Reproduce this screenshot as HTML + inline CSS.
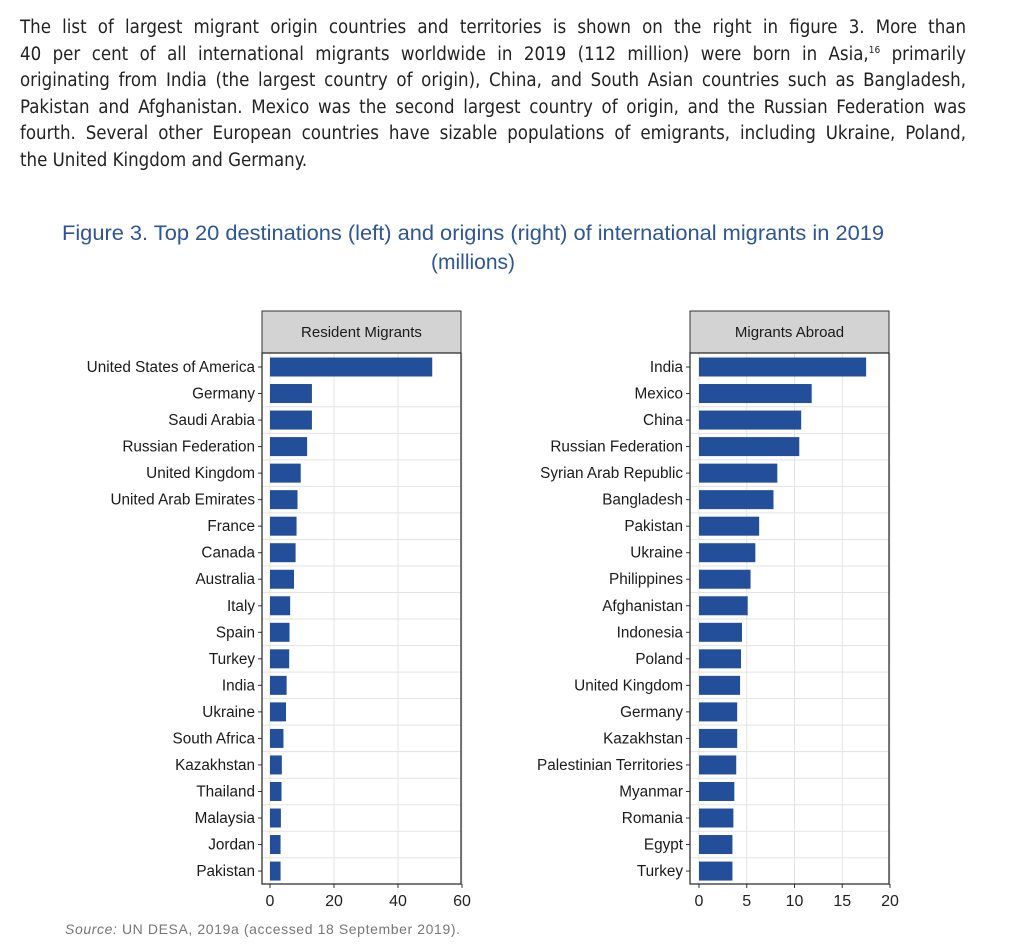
<!DOCTYPE html>
<html><head><meta charset="utf-8"><style>
body{margin:0;background:#fff;width:1024px;height:950px;overflow:hidden;position:relative}
#p{position:absolute;left:20px;top:15px;width:946px;font-family:"DejaVu Sans Condensed","Liberation Sans Narrow","DejaVu Sans",sans-serif;font-size:18.5px;line-height:26.6px;color:#222}
#p div{text-align:justify;text-align-last:justify;white-space:nowrap}
#p div.l{text-align-last:left}
#p sup{font-size:10px;line-height:0}
</style></head><body>
<div id="p">
<div>The list of largest migrant origin countries and territories is shown on the right in figure 3. More than</div>
<div>40 per cent of all international migrants worldwide in 2019 (112 million) were born in Asia,<sup>16</sup> primarily</div>
<div>originating from India (the largest country of origin), China, and South Asian countries such as Bangladesh,</div>
<div>Pakistan and Afghanistan. Mexico was the second largest country of origin, and the Russian Federation was</div>
<div>fourth. Several other European countries have sizable populations of emigrants, including Ukraine, Poland,</div>
<div class="l">the United Kingdom and Germany.</div>
</div>
<svg width="1024" height="950" style="position:absolute;left:0;top:0" font-family="Liberation Sans, sans-serif" id="s"></svg>
<script>
const s=document.getElementById('s');let h='';
h+='<text x="62" y="240" font-size="21" fill="#2d5597" textLength="822" lengthAdjust="spacingAndGlyphs">Figure 3. Top 20 destinations (left) and origins (right) of international migrants in 2019</text>';
h+='<text x="473" y="269" text-anchor="middle" font-size="21" fill="#2d5597">(millions)</text>';
h+='<text x="65" y="934" font-size="14" fill="#777" textLength="395"><tspan font-style="italic">Source:</tspan>  UN DESA, 2019a (accessed 18 September 2019).</text>';
function panel(x0,x1,z,scale,ticks,step,title,names,vals){
 h+=`<rect x="${x0}" y="311" width="${x1-x0}" height="42" fill="#d3d3d3" stroke="#333" stroke-width="1"/>`;
 h+=`<text x="${(x0+x1)/2}" y="337" text-anchor="middle" font-size="15" fill="#1a1a1a">${title}</text>`;
 for(let i=1;i<19;i++){const y=367+26.53*(i+0.5);h+=`<line x1="${x0}" x2="${x1}" y1="${y}" y2="${y}" stroke="#e3e3e3"/>`;}
 for(let t=0;t<=ticks;t+=step){const x=z+t*scale;h+=`<line x1="${x}" x2="${x}" y1="353" y2="884" stroke="#e3e3e3"/>`;
  h+=`<line x1="${x}" x2="${x}" y1="884" y2="888" stroke="#333"/><text x="${x}" y="906" text-anchor="middle" font-size="16" fill="#222">${t}</text>`;}
 names.forEach((n,i)=>{const y=367+26.53*i;
  h+=`<rect x="${z}" y="${y-9.5}" width="${vals[i]*scale}" height="19" fill="#234e99"/>`;
  h+=`<line x1="${x0-4}" x2="${x0}" y1="${y}" y2="${y}" stroke="#333"/>`;
  h+=`<text x="${x0-7}" y="${y+5}" text-anchor="end" font-size="15.3" fill="#1a1a1a">${n}</text>`;});
 h+=`<rect x="${x0}" y="353" width="${x1-x0}" height="531" fill="none" stroke="#222" stroke-width="1.2"/>`;
}
panel(262,461,270,3.2,60,20,'Resident Migrants',
['United States of America','Germany','Saudi Arabia','Russian Federation','United Kingdom','United Arab Emirates','France','Canada','Australia','Italy','Spain','Turkey','India','Ukraine','South Africa','Kazakhstan','Thailand','Malaysia','Jordan','Pakistan'],
[50.7,13.1,13.1,11.6,9.6,8.6,8.3,8.0,7.5,6.3,6.1,6.0,5.2,5.0,4.2,3.7,3.6,3.4,3.3,3.3]);
panel(690,889,699,9.55,20,5,'Migrants Abroad',
['India','Mexico','China','Russian Federation','Syrian Arab Republic','Bangladesh','Pakistan','Ukraine','Philippines','Afghanistan','Indonesia','Poland','United Kingdom','Germany','Kazakhstan','Palestinian Territories','Myanmar','Romania','Egypt','Turkey'],
[17.5,11.8,10.7,10.5,8.2,7.8,6.3,5.9,5.4,5.1,4.5,4.4,4.3,4.0,4.0,3.9,3.7,3.6,3.5,3.5]);
s.innerHTML=h;
</script>
</body></html>
